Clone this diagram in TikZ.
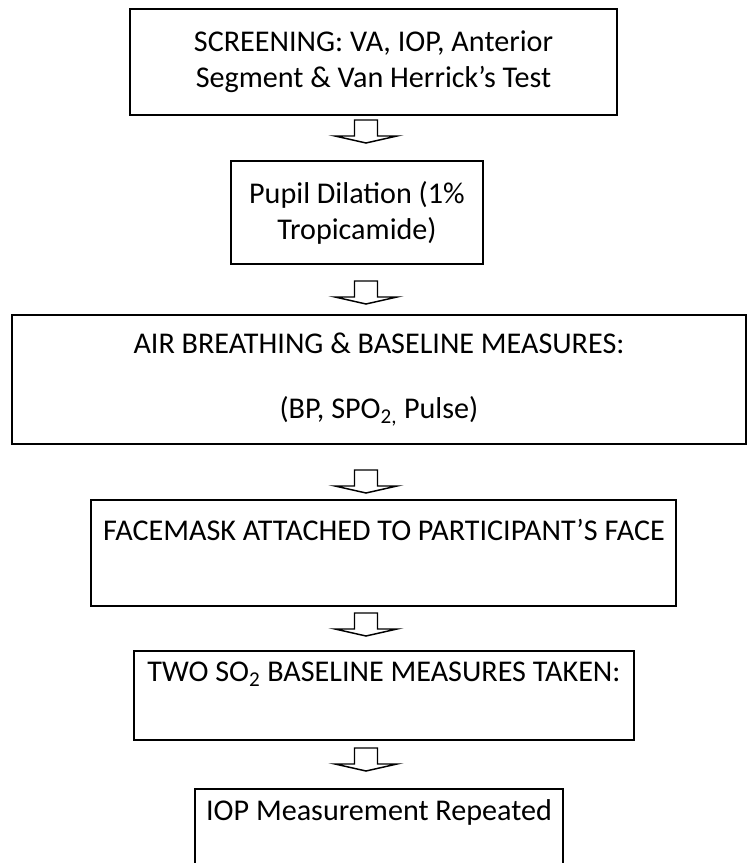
\documentclass[tikz,border=0pt]{standalone}
\usepackage{fontspec}
\setmainfont{Carlito}
\usetikzlibrary{positioning}

\begin{document}
\begin{tikzpicture}[
        x=0.75pt, y=0.75pt,
        % Cajas del diagrama de flujo
        stepbox/.style={draw, line width=1.5pt, align=center, inner sep=0pt, font=\fontsize{22.6}{27}\selectfont},
        % Flecha de bloque hacia abajo (origen en la punta)
        downarr/.pic={
            \draw[line width=1.1pt, fill=white] (0,0) -- (31,7) -- (11.5,7) -- (11.5,23)
                -- (-11.5,23) -- (-11.5,7) -- (-31,7) -- cycle;
        }
    ]
        \clip (0,0) rectangle (747,-863);
        \useasboundingbox (0,0) rectangle (747,-863);

        % Pasos
        \node[stepbox, minimum width=365.25pt, minimum height=79.5pt] (screen) at (373.5,-62)
            {SCREENING: VA, IOP, Anterior\\Segment \& Van Herrick’s Test};
        \node[stepbox, minimum width=189pt, minimum height=77.25pt, below=33pt of screen, xshift=-12.4pt] (dilate)
            {Pupil Dilation (1\%\\Tropicamide)};
        \node[stepbox, minimum width=550pt, minimum height=96.75pt, below=36.75pt of dilate, xshift=16.5pt] (air)
            {AIR BREATHING \& BASELINE MEASURES:\\[21.75pt](BP, SPO\textsubscript{2,} Pulse)};
        \node[stepbox, minimum width=438.75pt, minimum height=79.5pt, below=40.5pt of air, xshift=3.75pt] (mask)
            {FACEMASK ATTACHED TO PARTICIPANT’S FACE\\\strut};
        \node[stepbox, minimum width=375pt, minimum height=66.75pt, below=32.25pt of mask] (so2)
            {TWO SO\textsubscript{2} BASELINE MEASURES TAKEN:\\\strut};
        \node[stepbox, minimum width=276pt, minimum height=66pt, below=35.25pt of so2, xshift=-3.75pt] (iop)
            {IOP Measurement Repeated\\\strut};

        % Flechas entre pasos
        \coordinate (ax) at (366,0);
        \path (dilate.north -| ax) ++(0,17) coordinate (t1);
        \path (air.north -| ax) ++(0,10) coordinate (t2);
        \path (mask.north -| ax) ++(0,6) coordinate (t3);
        \path (so2.north -| ax) ++(0,14) coordinate (t4);
        \path (iop.north -| ax) ++(0,17) coordinate (t5);
        \foreach \t in {t1,t2,t3,t4,t5}
            \pic at (\t) {downarr};

    \end{tikzpicture}
\end{document}
